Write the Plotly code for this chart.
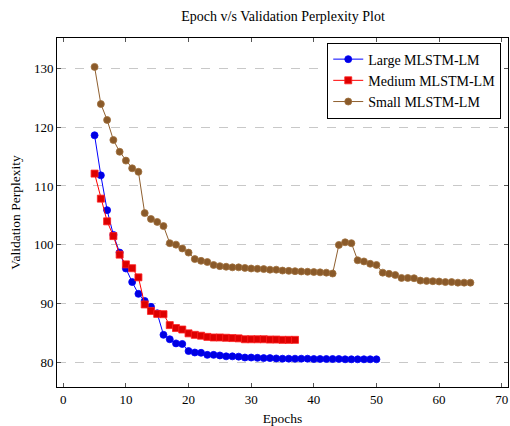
import plotly.graph_objects as go

large_epochs = list(range(5, 51))
large_ppl = [118.6, 111.8, 105.9, 101.7, 98.7, 96.0, 93.7, 91.7, 90.5, 89.5,
             88.4, 84.75, 84.0, 83.3, 83.2, 82.0, 81.75, 81.7, 81.35, 81.35,
             81.25, 81.1, 81.1, 81.05, 80.9, 80.9, 80.85, 80.8, 80.8, 80.75,
             80.7, 80.7, 80.7, 80.7, 80.7, 80.65, 80.65, 80.65, 80.65, 80.65,
             80.6, 80.6, 80.6, 80.6, 80.6, 80.6]

medium_epochs = list(range(5, 38))
medium_ppl = [112.1, 107.85, 104.0, 101.5, 98.35, 96.7, 96.05, 94.5, 89.9, 88.8,
              88.3, 88.25, 86.4, 85.9, 85.65, 85.0, 84.75, 84.6, 84.4, 84.3,
              84.3, 84.25, 84.2, 84.15, 84.0, 84.0, 84.0, 84.0, 83.95, 83.95,
              83.9, 83.9, 83.9]

small_epochs = list(range(5, 66))
small_ppl = [130.2, 123.9, 121.2, 117.8, 115.8, 114.3, 113.0, 112.4, 105.4, 104.4,
             103.9, 103.2, 100.3, 100.05, 99.4, 98.7, 97.6, 97.3, 97.1, 96.6,
             96.4, 96.3, 96.2, 96.2, 96.1, 96.0, 95.95, 95.9, 95.8, 95.8,
             95.65, 95.6, 95.55, 95.5, 95.45, 95.4, 95.35, 95.3, 95.15, 100.0,
             100.45, 100.3, 97.4, 97.2, 96.8, 96.6, 95.3, 95.1, 94.9, 94.4,
             94.4, 94.35, 93.95, 93.9, 93.85, 93.8, 93.7, 93.7, 93.6, 93.6,
             93.6]

x_ticks = [0, 10, 20, 30, 40, 50, 60, 70]
y_ticks = [80, 90, 100, 110, 120, 130]

FONT = "Liberation Serif, Times New Roman, DejaVu Serif, serif"

fig = go.Figure()
fig.add_trace(go.Scatter(
    x=large_epochs, y=large_ppl, mode="lines+markers", name="Large MLSTM-LM",
    line=dict(color="#0000ff", width=1),
    marker=dict(symbol="circle", size=7, color="#0000e0", line=dict(color="#0000ff", width=0.8))))
fig.add_trace(go.Scatter(
    x=medium_epochs, y=medium_ppl, mode="lines+markers", name="Medium MLSTM-LM",
    line=dict(color="#ff0000", width=1),
    marker=dict(symbol="square", size=7, color="#dd0000", line=dict(color="#ff2020", width=0.8))))
fig.add_trace(go.Scatter(
    x=small_epochs, y=small_ppl, mode="lines+markers", name="Small MLSTM-LM",
    line=dict(color="#8f5f2f", width=1),
    marker=dict(symbol="circle", size=7, color="#8a5a2a", line=dict(color="#a0703c", width=0.8))))

axis_common = dict(
    showline=True, linecolor="black", linewidth=1, mirror="ticks",
    ticks="inside", ticklen=4, tickcolor="#555555", tickwidth=1,
    zeroline=False, automargin=False,
    tickfont=dict(family=FONT, size=13, color="black"),
)

fig.update_layout(
    width=510, height=426,
    margin=dict(l=57, r=2, t=38, b=39),
    paper_bgcolor="white", plot_bgcolor="white",
    font=dict(family=FONT, color="black"),
    title=dict(text="Epoch v/s Validation Perplexity Plot", x=0.555, xanchor="center",
               y=0.962, yanchor="middle", font=dict(family=FONT, size=14, color="black")),
    xaxis=dict(range=[-1, 71], tickvals=x_ticks, showgrid=False,
               title=dict(text="Epochs", font=dict(family=FONT, size=13.5), standoff=7),
               **axis_common),
    yaxis=dict(range=[75.9, 135.1], tickvals=y_ticks, showgrid=True,
               gridcolor="#c8c8c8", griddash="dash", gridwidth=1,
               title=dict(text="Validation Perplexity", font=dict(family=FONT, size=13.5), standoff=10),
               **axis_common),
    legend=dict(x=0.985, y=0.987, xanchor="right", yanchor="top",
                bgcolor="white", bordercolor="black", borderwidth=1,
                font=dict(family=FONT, size=14, color="black"),
                tracegroupgap=0, itemwidth=30),
    showlegend=True,
)

fig.write_html(
    "out.html",
    config={"displayModeBar": False},
    post_script="document.body.style.margin='0';document.body.style.overflow='hidden';",
)
